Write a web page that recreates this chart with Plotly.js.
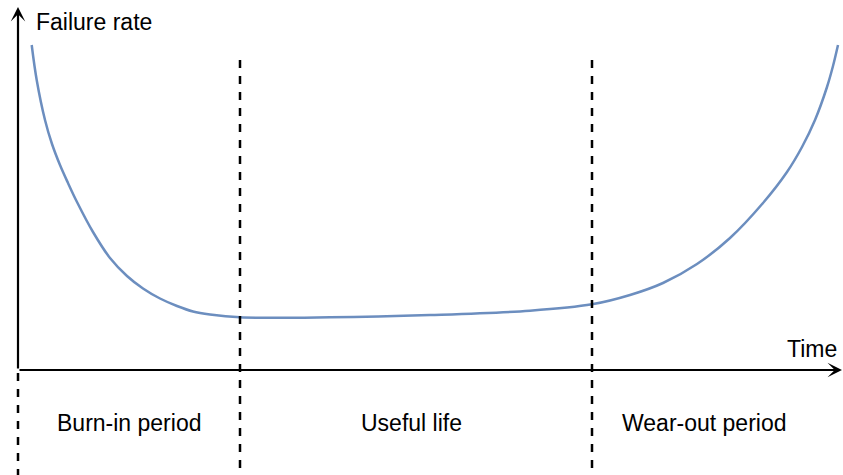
<!DOCTYPE html>
<html>
<head>
<meta charset="utf-8">
<script src="https://cdn.plot.ly/plotly-3.0.1.min.js"></script>
<style>html,body{margin:0;padding:0;background:#fff;}#chart{width:843px;height:475px;}</style>
</head>
<body>
<div id="chart"></div>
<script>
// Bathtub curve values (time units, failure-rate units)
var timeValues = [13.7, 18.7, 27, 34, 42, 50, 59, 75, 92, 109, 125, 142, 159, 175, 192, 222, 312, 412, 512, 574, 612, 645, 679, 712, 745, 769, 784, 797, 809, 815, 820];
var failureRate = [325, 290, 250, 226, 205, 187, 168, 138, 112, 94, 81.5, 71.5, 64, 58.5, 55.5, 52.7, 52.7, 55, 59.3, 65.7, 75, 87, 106, 132, 167, 198, 223, 250, 283, 304, 325];
// Period boundaries on the time axis and period labels
var periodBounds = [0, 222, 574];
var periodLabels = ["Burn-in period", "Useful life", "Wear-out period"];
var yAxisTitle = "Failure rate";
var xAxisTitle = "Time";

// layout: label centres along the time axis
var labelCenters = [111, 393, 686];

var font = {family: "Liberation Sans, Arial, Helvetica, sans-serif", size: 23, color: "#000"};

var traces = [{
  x: timeValues, y: failureRate, type: "scatter", mode: "lines",
  line: {color: "#6c8ebf", width: 2.5, shape: "spline", smoothing: 1},
  hoverinfo: "skip"
}];

var shapes = [];
// dashed separators
shapes.push({type: "line", xref: "x", yref: "y", x0: periodBounds[0], x1: periodBounds[0], y0: -3, y1: -105,
  line: {color: "#000", width: 2.5, dash: "8px,8px"}});
for (var i = 1; i < periodBounds.length; i++) {
  shapes.push({type: "line", xref: "x", yref: "y", x0: periodBounds[i], x1: periodBounds[i], y0: 310, y1: -105,
    line: {color: "#000", width: 2.5, dash: "8px,8px"}});
}

var annotations = [];
// axes arrows
annotations.push({x: 0, y: 363, ax: 0, ay: 0, xref: "x", yref: "y", axref: "x", ayref: "y",
  text: "", showarrow: true, arrowhead: 3, arrowsize: 1.1, arrowwidth: 2.2, arrowcolor: "#000", standoff: 0});
annotations.push({x: 824, y: 0, ax: 0, ay: 0, xref: "x", yref: "y", axref: "x", ayref: "y",
  text: "", showarrow: true, arrowhead: 3, arrowsize: 1.1, arrowwidth: 2.2, arrowcolor: "#000", standoff: 0});
// axis titles
annotations.push({x: 16, y: 348, xref: "x", yref: "y", text: yAxisTitle, showarrow: false,
  xanchor: "left", yanchor: "middle", font: font});
annotations.push({x: 821, y: 21, xref: "x", yref: "y", text: xAxisTitle, showarrow: false,
  xanchor: "right", yanchor: "middle", font: font});
// period labels
for (var j = 0; j < periodLabels.length; j++) {
  annotations.push({x: labelCenters[j], y: -53, xref: "x", yref: "y", text: periodLabels[j], showarrow: false,
    xanchor: "center", yanchor: "middle", font: font});
}

var layout = {
  width: 843, height: 475,
  margin: {l: 0, r: 0, t: 0, b: 0, pad: 0},
  paper_bgcolor: "#fff", plot_bgcolor: "#fff",
  showlegend: false,
  xaxis: {range: [-18, 825], visible: false, showgrid: false, zeroline: false, fixedrange: true},
  yaxis: {range: [-105, 370], visible: false, showgrid: false, zeroline: false, fixedrange: true},
  shapes: shapes,
  annotations: annotations
};

Plotly.newPlot("chart", traces, layout, {displayModeBar: false, staticPlot: true});
</script>
</body>
</html>
